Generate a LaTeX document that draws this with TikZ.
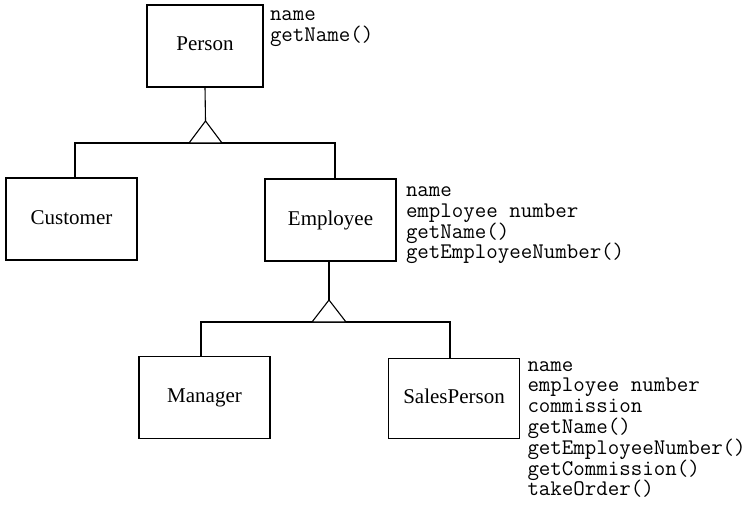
\documentclass[tikz,border=0pt]{standalone}
\usepackage{fontspec}
\setmainfont{Liberation Serif}
\begin{document}
\begin{tikzpicture}[x=1pt,y=-1pt,line width=1.1pt,line join=miter,
  cls/.style={draw,inner sep=0pt,outer sep=0pt,minimum width=131pt,minimum height=82pt,
    font=\fontsize{21}{24}\selectfont,text height=14pt,text depth=4pt},
  attrs/.style={anchor=north west,inner sep=0pt,outer sep=0pt,align=left,
    font=\ttfamily\fontsize{22.3}{20.8}\selectfont},
  gen/.style={draw,fill=white}]
\useasboundingbox (0,0) rectangle (749,505);
% classes
\node[cls,minimum width=116pt] (person) at (205,46) {Person};
\node[cls] (customer) at (71.5,219) {Customer};
\node[cls] (employee) at (330.5,220) {Employee};
\node[cls] (manager) at (204.5,397.5) {Manager};
\node[cls,minimum height=80pt] (sales) at (454,398.3) {SalesPerson};
% attribute lists
\node[attrs] (pattr) at (270,6.5) {\rule{0pt}{14pt}name\\getName()};
\node[attrs] (eattr) at (406,182.5) {\rule{0pt}{14pt}name\\employee number\\getName()\\getEmployeeNumber()};
\node[attrs] (sattr) at (527.5,357) {\rule{0pt}{14pt}name\\employee number\\commission\\getName()\\getEmployeeNumber()\\getCommission()\\takeOrder()};
% generalisation Person
\coordinate (apex1) at (205.5,121);
\coordinate (bar1) at (205.5,143);
\draw (person.south) -- (apex1);
\draw ([xshift=3.5pt]customer.north) |- (bar1) -| ([xshift=4.5pt]employee.north);
\draw[gen] (apex1) -- ([xshift=-16.5pt]bar1) -- ([xshift=16.5pt]bar1) -- cycle;
% generalisation Employee
\coordinate (apex2) at (329,300);
\coordinate (bar2) at (329,322);
\draw ([xshift=-1.5pt]employee.south) -- (apex2);
\draw ([xshift=-3.5pt]manager.north) |- (bar2) -| ([xshift=-4pt]sales.north);
\draw[gen] (apex2) -- ([xshift=-17pt]bar2) -- ([xshift=17pt]bar2) -- cycle;
\end{tikzpicture}
\end{document}
